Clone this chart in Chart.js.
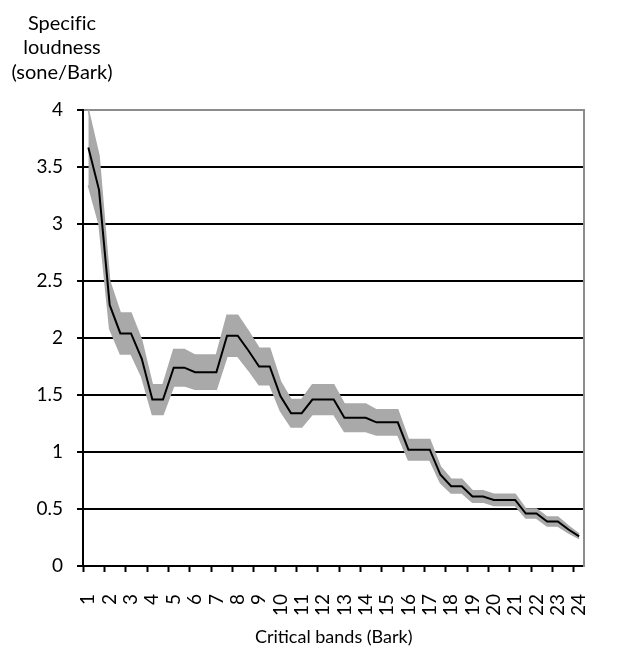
<!DOCTYPE html>
<html>
<head>
<meta charset="utf-8">
<script src="https://cdn.jsdelivr.net/npm/chart.js@4/dist/chart.umd.min.js"></script>
<style>
  html, body { margin: 0; padding: 0; background: #ffffff; }
  #wrap { width: 624px; height: 654px; }
</style>
</head>
<body>
<div id="wrap"><canvas id="c" width="624" height="654"></canvas></div>
<script>
// Critical bands in half-Bark steps
const bands = [1, 1.5, 2, 2.5, 3, 3.5, 4, 4.5, 5, 5.5, 6, 6.5, 7, 7.5, 8, 8.5, 9, 9.5,
  10, 10.5, 11, 11.5, 12, 12.5, 13, 13.5, 14, 14.5, 15, 15.5, 16, 16.5, 17, 17.5,
  18, 18.5, 19, 19.5, 20, 20.5, 21, 21.5, 22, 22.5, 23, 23.5, 24];

// Specific loudness (sone/Bark), nominal curve
const loudness = [3.67, 3.30, 2.29, 2.04, 2.04, 1.82, 1.46, 1.46, 1.74, 1.74, 1.70, 1.70,
  1.70, 2.02, 2.02, 1.89, 1.75, 1.75, 1.49, 1.34, 1.34, 1.46, 1.46, 1.46, 1.30, 1.30,
  1.30, 1.26, 1.26, 1.26, 1.02, 1.02, 1.02, 0.80, 0.70, 0.70, 0.61, 0.61, 0.58, 0.58,
  0.58, 0.46, 0.46, 0.39, 0.39, 0.32, 0.26];

// Upper and lower edge of the spread around the nominal curve
const loudnessHigh = [4.00, 3.60, 2.50, 2.22, 2.22, 1.98, 1.59, 1.59, 1.90, 1.90, 1.85, 1.85,
  1.85, 2.20, 2.20, 2.06, 1.91, 1.91, 1.62, 1.46, 1.46, 1.59, 1.59, 1.59, 1.42, 1.42,
  1.42, 1.37, 1.37, 1.37, 1.11, 1.11, 1.11, 0.87, 0.76, 0.76, 0.66, 0.66, 0.63, 0.63,
  0.63, 0.50, 0.50, 0.43, 0.43, 0.35, 0.28];
const loudnessLow = [3.34, 3.00, 2.08, 1.86, 1.86, 1.66, 1.33, 1.33, 1.58, 1.58, 1.55, 1.55,
  1.55, 1.84, 1.84, 1.72, 1.59, 1.59, 1.36, 1.22, 1.22, 1.33, 1.33, 1.33, 1.18, 1.18,
  1.18, 1.15, 1.15, 1.15, 0.93, 0.93, 0.93, 0.73, 0.64, 0.64, 0.56, 0.56, 0.53, 0.53,
  0.53, 0.42, 0.42, 0.35, 0.35, 0.29, 0.24];

const yTickValues = [0, 0.5, 1, 1.5, 2, 2.5, 3, 3.5, 4];
// zero-width non-joiner keeps "f" and "i" as separate glyphs
const yTitleLines = ['Specif\u200Cic', 'loudness', '(sone/Bark)'];
const xTitle = 'Critical bands (Bark)';

const FONT = 'Lato';

// Multi-line horizontal caption above the value axis
const valueCaption = {
  id: 'valueCaption',
  afterDraw(chart) {
    const ctx = chart.ctx;
    ctx.save();
    ctx.font = '20px ' + FONT;
    ctx.fillStyle = '#000';
    ctx.textAlign = 'center';
    ctx.textBaseline = 'alphabetic';
    yTitleLines.forEach((line, i) => ctx.fillText(line, 62, 30 + i * 24.3));
    ctx.restore();
  }
};

const band = '#a9a9a9';

new Chart(document.getElementById('c'), {
  type: 'line',
  data: {
    labels: bands,
    datasets: [
      {
        data: loudness,
        borderColor: '#000',
        borderWidth: 2,
        pointRadius: 0,
        tension: 0,
        fill: false
      },
      {
        data: loudnessHigh,
        borderColor: band,
        backgroundColor: band,
        borderWidth: 1.5,
        pointRadius: 0,
        tension: 0,
        fill: '+1'
      },
      {
        data: loudnessLow,
        borderColor: band,
        borderWidth: 1.5,
        pointRadius: 0,
        tension: 0,
        fill: false
      }
    ]
  },
  options: {
    responsive: false,
    animation: false,
    devicePixelRatio: 1,
    layout: { padding: { left: 13, top: 110, right: 4, bottom: 0 } },
    plugins: {
      legend: { display: false },
      tooltip: { enabled: false },
      title: { display: false }
    },
    scales: {
      x: {
        type: 'category',
        offset: true,
        grid: {
          offset: true,
          drawOnChartArea: false,
          drawTicks: true,
          tickLength: 6,
          tickWidth: 2,
          tickColor: (ctx) => (ctx.index !== undefined && ctx.index % 2 === 0) ? '#000' : 'rgba(0,0,0,0)'
        },
        border: { color: '#000', width: 2 },
        ticks: {
          autoSkip: false,
          minRotation: 90,
          maxRotation: 90,
          padding: 22,
          color: '#000',
          font: { family: FONT, size: 19 },
          callback: function (value) {
            const v = this.getLabelForValue(value);
            return Number.isInteger(v) ? String(v) : '';
          }
        },
        title: {
          display: true,
          text: xTitle,
          color: '#000',
          font: { family: FONT, size: 18 },
          padding: { top: 0, bottom: 6 }
        },
        afterFit: (scale) => { scale.height = 88; }
      },
      y: {
        type: 'linear',
        min: 0,
        max: 4,
        afterBuildTicks: (scale) => { scale.ticks = yTickValues.map(v => ({ value: v })); },
        grid: {
          color: (ctx) => (ctx.tick && ctx.tick.value === 4) ? '#8c8c8c' : '#000',
          lineWidth: 2,
          tickLength: 6,
          tickColor: '#000'
        },
        border: { color: '#000', width: 2 },
        ticks: {
          padding: 14,
          color: '#000',
          font: { family: FONT, size: 19 },
          callback: (v) => String(v)
        },
        afterFit: (scale) => { scale.width = 70; }
      },
      yRight: {
        type: 'linear',
        position: 'right',
        display: true,
        min: 0,
        max: 4,
        grid: { display: false, drawTicks: false, tickLength: 0 },
        ticks: { display: false },
        border: { color: '#8c8c8c', width: 2 },
        afterFit: (scale) => { scale.width = 0; }
      }
    }
  },
  plugins: [valueCaption]
});
</script>
</body>
</html>
